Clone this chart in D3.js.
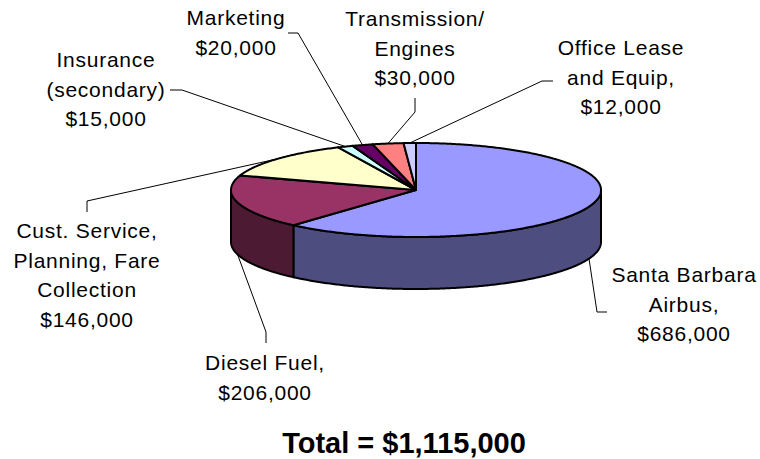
<!DOCTYPE html>
<meta charset="utf-8">
<html>
<head>
<style>
  body { margin: 0; background: #fff; }
  .lbl { font-family: Arial, "Liberation Sans", sans-serif; font-size: 21px; letter-spacing: 0.75px; fill: #000; }
  .total { font-family: Arial, "Liberation Sans", sans-serif; font-size: 29px; font-weight: bold; fill: #000; }
</style>
</head>
<body>
<div id="chart"></div>
<script src="https://cdn.jsdelivr.net/npm/d3@7"></script>
<script>

// budget items, clockwise from 12 o'clock
var categories = [
  ["Santa Barbara", "Airbus,"],
  ["Diesel Fuel,"],
  ["Cust. Service,", "Planning, Fare", "Collection"],
  ["Insurance", "(secondary)"],
  ["Marketing"],
  ["Transmission/", "Engines"],
  ["Office Lease", "and Equip,"]
];
var values = [686000, 206000, 146000, 15000, 20000, 30000, 12000];
var topColors = ["#9999FF", "#993366", "#FFFFCC", "#CCFFFF", "#660066", "#FF8080", "#CCCCFF"];

// where each label sits, plus its leader line start and elbow
var labelPos = [
  {x: 684, y: 282, from: [607, 312], elbow: [597, 312]},
  {x: 265, y: 370, from: [266, 343], elbow: [266, 332]},
  {x: 87,  y: 238, from: [87, 212],  elbow: [87, 201]},
  {x: 106, y: 67,  from: [170, 90],  elbow: [182, 90]},
  {x: 236, y: 25,  from: [288, 33],  elbow: [298, 33]},
  {x: 415, y: 26,  from: [415, 98],  elbow: [415, 112]},
  {x: 621, y: 55,  from: [553, 81],  elbow: [542, 81]}
];

var width = 760, height = 459;
var cx = 416, cy = 190, rx = 185, ry = 47, depth = 52;
var lineH = 29.5;

var svg = d3.select("#chart").append("svg")
  .attr("width", width)
  .attr("height", height);

var arcs = d3.pie().sort(null).value(function(d) { return d; })(values);
var fmt = d3.format("$,");

function pt(a, dy) {
  return [cx + rx * Math.sin(a), cy - ry * Math.cos(a) + (dy || 0)];
}
function rim(a0, a1, dy) {
  var n = Math.max(2, Math.ceil(Math.abs(a1 - a0) / 0.01));
  return d3.range(n + 1).map(function(i) { return pt(a0 + (a1 - a0) * i / n, dy); });
}
var line = d3.line();

function darker(c) {
  var r = d3.rgb(c);
  return d3.rgb(r.r / 2, r.g / 2, r.b / 2).formatHex();
}

// side walls (front half only)
arcs.forEach(function(d, i) {
  var a0 = Math.max(d.startAngle, Math.PI / 2),
      a1 = Math.min(d.endAngle, 3 * Math.PI / 2);
  if (a0 >= a1) return;
  var pts = rim(a0, a1, 0).concat(rim(a1, a0, depth));
  svg.append("path")
    .attr("d", line(pts) + "Z")
    .attr("fill", darker(topColors[i]))
    .attr("stroke", "#000")
    .attr("stroke-width", 2)
    .attr("stroke-linejoin", "round");
});

// top faces
arcs.forEach(function(d, i) {
  var pts = [[cx, cy]].concat(rim(d.startAngle, d.endAngle, 0));
  svg.append("path")
    .attr("d", line(pts) + "Z")
    .attr("fill", topColors[i])
    .attr("stroke", "#000")
    .attr("stroke-width", 2)
    .attr("stroke-linejoin", "round");
});

// leader lines
arcs.forEach(function(d, i) {
  var m = (d.startAngle + d.endAngle) / 2;
  var front = Math.cos(m) < 0;
  var p = labelPos[i];
  svg.append("path")
    .attr("d", line([p.from, p.elbow, pt(m, front ? depth : 0)]))
    .attr("fill", "none")
    .attr("stroke", "#000")
    .attr("stroke-width", 1);
});

// labels
arcs.forEach(function(d, i) {
  var p = labelPos[i];
  var lines = categories[i].concat([fmt(values[i])]);
  var t = svg.append("text")
    .attr("class", "lbl")
    .attr("text-anchor", "middle");
  lines.forEach(function(s, j) {
    t.append("tspan")
      .attr("x", p.x)
      .attr("y", p.y + j * lineH)
      .text(s);
  });
});

svg.append("text")
  .attr("class", "total")
  .attr("text-anchor", "middle")
  .attr("x", 404)
  .attr("y", 453)
  .text("Total = " + fmt(d3.sum(values)));

</script>
</body>
</html>
